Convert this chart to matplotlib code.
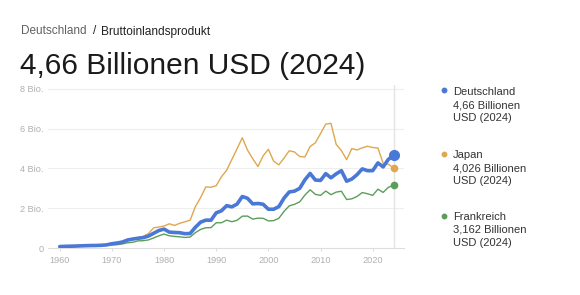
import matplotlib
matplotlib.use("Agg")
import matplotlib.pyplot as plt
from matplotlib.lines import Line2D

years = list(range(1960, 2025))
germany = [0.072, 0.083, 0.090, 0.097, 0.108, 0.117, 0.124, 0.127, 0.137, 0.157,
           0.215, 0.250, 0.300, 0.400, 0.450, 0.490, 0.520, 0.600, 0.740, 0.880,
           0.950, 0.800, 0.780, 0.770, 0.720, 0.730, 1.040, 1.300, 1.400, 1.400,
           1.770, 1.870, 2.130, 2.070, 2.210, 2.590, 2.500, 2.220, 2.240, 2.200,
           1.950, 1.950, 2.080, 2.510, 2.820, 2.860, 3.000, 3.430, 3.750, 3.420,
           3.400, 3.740, 3.530, 3.730, 3.890, 3.360, 3.470, 3.690, 3.980, 3.890,
           3.890, 4.280, 4.080, 4.460, 4.660]
japan = [0.044, 0.054, 0.061, 0.070, 0.082, 0.091, 0.106, 0.124, 0.147, 0.172,
         0.213, 0.240, 0.318, 0.432, 0.479, 0.521, 0.586, 0.722, 1.013, 1.055,
         1.105, 1.218, 1.135, 1.243, 1.318, 1.399, 2.079, 2.533, 3.072, 3.054,
         3.133, 3.584, 3.909, 4.454, 4.998, 5.546, 4.923, 4.492, 4.098, 4.636,
         4.968, 4.374, 4.183, 4.519, 4.893, 4.831, 4.601, 4.579, 5.106, 5.289,
         5.759, 6.233, 6.272, 5.212, 4.897, 4.445, 5.004, 4.931, 5.041, 5.118,
         5.055, 5.034, 4.256, 4.213, 4.026]
france = [0.062, 0.068, 0.076, 0.084, 0.094, 0.102, 0.110, 0.119, 0.130, 0.141,
          0.148, 0.165, 0.204, 0.264, 0.286, 0.360, 0.368, 0.407, 0.506, 0.614,
          0.701, 0.615, 0.585, 0.561, 0.530, 0.553, 0.771, 0.934, 1.019, 1.025,
          1.269, 1.270, 1.401, 1.322, 1.394, 1.601, 1.606, 1.453, 1.503, 1.493,
          1.362, 1.377, 1.494, 1.841, 2.120, 2.197, 2.320, 2.660, 2.930, 2.700,
          2.645, 2.865, 2.683, 2.811, 2.856, 2.439, 2.473, 2.595, 2.790, 2.729,
          2.647, 2.960, 2.796, 3.052, 3.162]

y_ticks = [0, 2, 4, 6, 8]
y_tick_labels = ["0", "2 Bio.", "4 Bio.", "6 Bio.", "8 Bio."]
x_ticks = [1960, 1970, 1980, 1990, 2000, 2010, 2020]

legend_names = ["Deutschland", "Japan", "Frankreich"]
legend_values = ["4,66 Billionen", "4,026 Billionen", "3,162 Billionen"]
legend_units = ["USD (2024)", "USD (2024)", "USD (2024)"]

c_de = "#4a78d6"
c_jp = "#dfa74e"
c_fr = "#5b9e5b"

plt.rcParams['font.family'] = ['Liberation Sans', 'DejaVu Sans']

fig = plt.figure(figsize=(5.8, 2.95), dpi=100)
ax = fig.add_axes([48/580, 1 - 248/295, (404-48)/580, (248-85)/295])

ax.set_xlim(1957.75, 2026.0)
ax.set_ylim(0, 8.2)

for v in y_ticks[1:]:
    ax.axhline(v, color="#eeeeee", lw=0.8, zorder=0)
ax.axvline(2024, color="#e4e4e4", lw=1.0, zorder=0)

ax.plot(years, japan, color=c_jp, lw=1.0, zorder=2)
ax.plot(years, france, color=c_fr, lw=1.0, zorder=2)
ax.plot(years, germany, color=c_de, lw=2.6, zorder=3, solid_capstyle="round", solid_joinstyle="round")

ax.plot([years[-1]], [japan[-1]], "o", color=c_jp, ms=4.5, zorder=4)
ax.plot([years[-1]], [france[-1]], "o", color=c_fr, ms=4.5, zorder=4)
ax.plot([years[-1]], [germany[-1]], "o", color=c_de, ms=7.0, zorder=5)

for s in ["top", "right", "left"]:
    ax.spines[s].set_visible(False)
ax.spines["bottom"].set_color("#dddddd")
ax.spines["bottom"].set_linewidth(0.8)

ax.set_yticks(y_ticks)
ax.set_yticklabels(y_tick_labels)
ax.set_xticks(x_ticks)
ax.tick_params(axis="y", length=0, pad=3, labelsize=6.6, labelcolor="#b0b0b0")
ax.tick_params(axis="x", length=2.5, width=0.8, color="#dddddd", pad=3, labelsize=6.6, labelcolor="#b0b0b0")

# Titles
fig.text(21/580, 1 - 34.5/295, "Deutschland", fontsize=8.5, color="#606060", va="baseline", ha="left")
fig.text(92.5/580, 1 - 34.5/295, "/", fontsize=8.5, color="#222222", va="baseline", ha="left")
fig.text(101/580, 1 - 34.5/295, "Bruttoinlandsprodukt", fontsize=8.6, color="#222222", va="baseline", ha="left")
fig.text(20/580, 1 - 73.5/295, "4,66 Billionen USD (2024)", fontsize=21.5, color="#1a1a1a", va="baseline", ha="left")

# Legend
leg_colors = [c_de, c_jp, c_fr]
dot_y = [90.5, 153.7, 215.5]
base_y = [94.7, 157.9, 219.7]
for name, val, unit, col, dy, by in zip(legend_names, legend_values, legend_units, leg_colors, dot_y, base_y):
    fig.add_artist(Line2D([444/580], [1 - dy/295], marker="o", ms=3.2, color=col, lw=0,
                          transform=fig.transFigure))
    for i, line in enumerate([name, val, unit]):
        fig.text(453/580, 1 - (by + i*13.3)/295, line, fontsize=8, color="#333333",
                 va="baseline", ha="left")

fig.savefig("out.png", dpi=100)
